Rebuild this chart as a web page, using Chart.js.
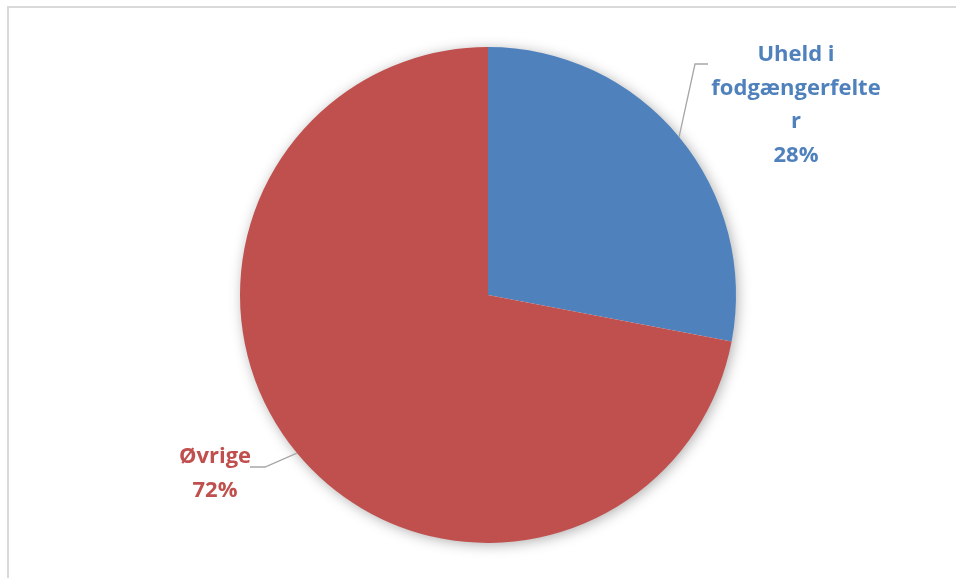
<!DOCTYPE html>
<html>
<head>
<meta charset="utf-8">
<script src="https://cdn.jsdelivr.net/npm/chart.js@4/dist/chart.umd.min.js"></script>
<style>
	html, body { margin: 0; padding: 0; background: #fff; }
	#wrap { position: relative; width: 956px; height: 578px; overflow: hidden; }
	#frame { position: absolute; left: 7px; top: 6px; width: 1000px; height: 1000px;
		border-left: 2px solid #d9d9d9; border-top: 2px solid #d9d9d9; }
	#pieChart { position: absolute; left: 0; top: 0; }
</style>
</head>
<body>
<div id="wrap">
	<div id="frame"></div>
	<canvas id="pieChart" width="956" height="578"></canvas>
</div>
<script>
	// categories and shares (percent)
	var categories = ["Uheld i fodgængerfelter", "Øvrige"];
	var shares = [28, 72];
	var sliceColors = ["#4F81BD", "#C0504D"];
	// label text as wrapped in the chart
	var labelLines = [
		["Uheld i", "fodgængerfelte", "r", "28%"],
		["Øvrige", "72%"]
	];

	//soft shadow behind the pie
	var pieShadow = {
		id: "pieShadow",
		beforeDatasetsDraw: function (chart) {
			var arc = chart.getDatasetMeta(0).data[0];
			var ctx = chart.ctx;
			ctx.save();
			ctx.shadowColor = "rgba(0,0,0,0.35)";
			ctx.shadowBlur = 14;
			ctx.shadowOffsetX = 2;
			ctx.shadowOffsetY = 2;
			ctx.fillStyle = "#ffffff";
			ctx.beginPath();
			ctx.arc(arc.x, arc.y, arc.outerRadius - 1, 0, Math.PI * 2);
			ctx.fill();
			ctx.restore();
		}
	};

	//labels with leader lines from the middle of each slice edge
	var sliceLabels = {
		id: "sliceLabels",
		afterDatasetsDraw: function (chart) {
			var ctx = chart.ctx;
			var arcs = chart.getDatasetMeta(0).data;
			// text block centre and leader elbow for each slice
			var layout = [
				{ tx: 796, ty: 55, elbowX: 695, elbowY: 64, endX: 708 },
				{ tx: 215, ty: 457, elbowX: 265, elbowY: 467, endX: 250 }
			];
			ctx.save();
			arcs.forEach(function (arc, i) {
				var mid = (arc.startAngle + arc.endAngle) / 2;
				var sx = arc.x + Math.cos(mid) * arc.outerRadius;
				var sy = arc.y + Math.sin(mid) * arc.outerRadius;
				var l = layout[i];
				ctx.strokeStyle = "#a6a6a6";
				ctx.lineWidth = 1.3;
				ctx.beginPath();
				ctx.moveTo(sx, sy);
				ctx.lineTo(l.elbowX, l.elbowY);
				ctx.lineTo(l.endX, l.elbowY);
				ctx.stroke();

				ctx.fillStyle = sliceColors[i];
				ctx.font = "bold 22px 'Open Sans'";
				ctx.textAlign = "center";
				ctx.textBaseline = "middle";
				labelLines[i].forEach(function (line, j) {
					ctx.fillText(line, l.tx, l.ty + j * 33.5);
				});
			});
			ctx.restore();
		}
	};

	var ctx = document.getElementById("pieChart");
	var pieChart = new Chart(ctx, {
		type: "pie",
		data: {
			labels: categories,
			datasets: [{
				data: shares,
				backgroundColor: sliceColors,
				borderWidth: 0
			}]
		},
		options: {
			responsive: false,
			animation: false,
			layout: { padding: { left: 240, right: 220, top: 47, bottom: 35 } },
			plugins: {
				legend: { display: false },
				tooltip: { enabled: false }
			}
		},
		plugins: [pieShadow, sliceLabels]
	});
</script>
</body>
</html>
